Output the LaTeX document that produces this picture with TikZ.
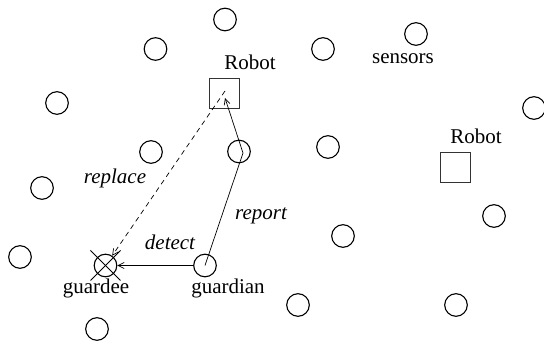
\documentclass[tikz,border=0pt]{standalone}
\usepackage{fontspec}
\setmainfont{Liberation Serif}
\usetikzlibrary{arrows.meta}
\begin{document}
\begin{tikzpicture}[x=1pt,y=-1pt,
  sensor/.style={circle,draw,line width=1.1pt,minimum size=22.6pt,inner sep=0pt},
  robot/.style={rectangle,draw=black!80,line width=0.8pt,minimum size=30pt,inner sep=0pt},
  lbl/.style={font=\fontsize{21}{24}\selectfont,anchor=base,inner sep=0pt},
  ilbl/.style={lbl,font=\fontsize{21}{24}\selectfont\itshape},
  link/.style={line width=0.7pt,-{Straight Barb[length=6pt,width=6pt]}}]
\useasboundingbox (0,0) rectangle (544,344);
% sensors
\node[sensor] (s1) at (225,19.5) {};
\node[sensor] (s2) at (155.5,49) {};
\node[sensor] (s3) at (323,49) {};
\node[sensor] (s4) at (416,34) {};
\node[sensor] (s5) at (57,103) {};
\node[sensor] (s6) at (534,108) {};
\node[sensor] (s7) at (151,152) {};
\node[sensor] (s8) at (239,151.5) {};
\node[sensor] (s9) at (328,147) {};
\node[sensor] (s10) at (42,188) {};
\node[sensor] (s11) at (494,216) {};
\node[sensor] (s12) at (343,236) {};
\node[sensor] (s13) at (20,257) {};
\node[sensor] (s14) at (298,305) {};
\node[sensor] (s15) at (456,305) {};
\node[sensor] (s16) at (97,329) {};
\node[sensor] (guardian) at (205,265.5) {};
\node[sensor] (guardee) at (105.5,265.5) {};
\draw[line width=0.9pt] (guardee.center) ++(-15,-15) coordinate (xa) -- ++(30,30) coordinate (xb);
\draw[line width=0.9pt] (guardee.center) ++(15,-15) coordinate (xc) -- ++(-30,30) coordinate (xd);
% robots
\node[robot] (r1) at (224,93) {};
\node[robot] (r2) at (455,167) {};
% labels
\node[lbl] (lr1) at (250,70) {Robot};
\node[lbl] (lr2) at (476,144) {Robot};
\node[lbl] (lsens) at (403,64) {sensors};
\node[lbl] (lgee) at (96,294) {guardee};
\node[lbl] (lgian) at (228,294) {guardian};
\node[ilbl] (ldet) at (170,250) {detect};
\node[ilbl] (lrep) at (261,220) {report};
\node[ilbl] (lrepl) at (115,184) {replace};
% connectors
\coordinate (bend) at (243,153);
\coordinate (rtip) at (225,98);
\coordinate (rstart) at (225,91);
\draw[link] (guardian.center) -- (bend) -- (rtip);
\draw[link] (guardian.west) -- (guardee.east);
\draw[link,dashed,dash pattern=on 5pt off 4pt] (rstart) -- (guardee);
\end{tikzpicture}
\end{document}
